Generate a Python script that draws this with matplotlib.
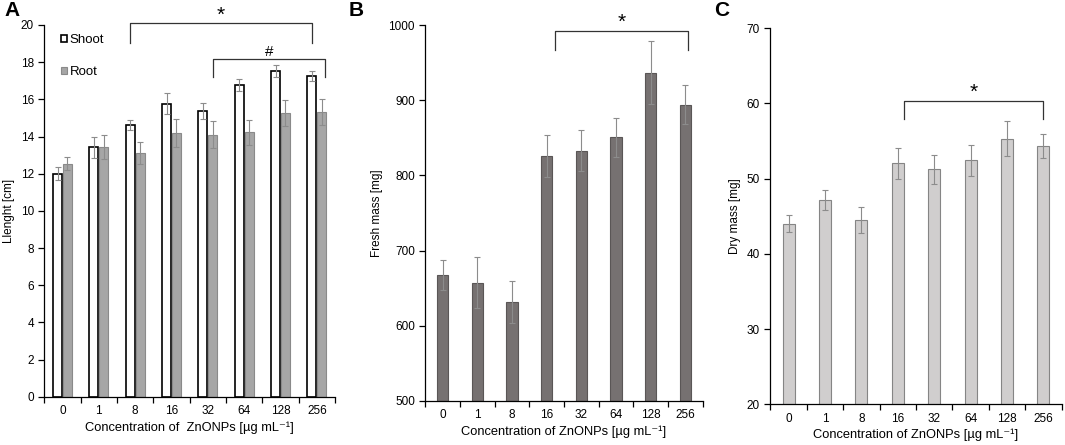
import matplotlib
matplotlib.use("Agg")
import matplotlib.pyplot as plt
import numpy as np

plt.rcParams['font.family'] = ['Liberation Sans', 'DejaVu Sans']

categories = ['0', '1', '8', '16', '32', '64', '128', '256']

shoot_len = [12.0, 13.42, 14.6, 15.77, 15.37, 16.79, 17.54, 17.24]
shoot_err = [0.34, 0.55, 0.27, 0.55, 0.45, 0.32, 0.33, 0.27]
root_len = [12.54, 13.42, 13.11, 14.19, 14.10, 14.22, 15.25, 15.30]
root_err = [0.34, 0.64, 0.61, 0.73, 0.72, 0.65, 0.71, 0.70]

fresh_mass = [667, 657, 632, 826, 833, 851, 937, 894]
fresh_err = [20, 34, 28, 28, 27, 26, 42, 26]

dry_mass = [44.0, 47.1, 44.45, 52.0, 51.2, 52.4, 55.3, 54.3]
dry_err = [1.15, 1.33, 1.7, 2.05, 1.95, 2.1, 2.3, 1.6]

xlabel_A = 'Concentration of  ZnONPs [µg mL⁻¹]'
xlabel_BC = 'Concentration of ZnONPs [µg mL⁻¹]'

W, H = 1065, 445
fig = plt.figure(figsize=(W / 100, H / 100), dpi=100)

def axes_px(l, r, t, b):
    return fig.add_axes([l / W, 1 - b / H, (r - l) / W, (b - t) / H])

axA = axes_px(44.3, 335, 25, 396.7)
axB = axes_px(425.3, 702.7, 25.3, 400.7)
axC = axes_px(770.3, 1061.7, 28, 404.3)

x = np.arange(len(categories))
ekw = dict(ecolor='#8c8c8c', elinewidth=0.8, capsize=2, capthick=0.8)

def style(ax, ylim, yticks, ylabel, xlabel):
    ax.set_xlim(-0.5, len(categories) - 0.5)
    ax.set_ylim(*ylim)
    ax.set_yticks(yticks)
    ax.set_xticks(x)
    ax.set_xticklabels(categories)
    ax.set_xticks(np.arange(-0.5, len(categories), 1.0), minor=True)
    ax.tick_params(axis='x', which='major', length=0, labelsize=8.5, pad=6)
    ax.tick_params(axis='x', which='minor', length=4, width=0.9, direction='out')
    ax.tick_params(axis='y', length=4, width=0.9, labelsize=8.5, direction='out')
    for s in ['top', 'right']:
        ax.spines[s].set_visible(False)
    for s in ['left', 'bottom']:
        ax.spines[s].set_linewidth(0.9)
    ax.set_ylabel(ylabel, fontsize=8.5)
    ax.set_xlabel(xlabel, fontsize=9.3, labelpad=3)

def bracket(ax, x0, x1, ytop, ybot, label, ytext, fs=13):
    ax.plot([x0, x0, x1, x1], [ybot, ytop, ytop, ybot], color='#333333', lw=0.9,
            clip_on=False)
    ax.text((x0 + x1) / 2, ytext, label, ha='center', va='center', fontsize=fs,
            clip_on=False)

# Panel A
off = 0.135
bw = 0.25
axA.bar(x - off, shoot_len, bw, color='white', edgecolor='black', linewidth=1.2,
        yerr=shoot_err, error_kw=ekw, label='Shoot', zorder=2)
axA.bar(x + off, root_len, bw, color='#a6a6a6', edgecolor='#8a8a8a', linewidth=0.8,
        yerr=root_err, error_kw=ekw, label='Root', zorder=2)
style(axA, (0, 20), np.arange(0, 21, 2), 'Llenght [cm]', xlabel_A)
bracket(axA, 2 - off, 7 - off, 20.09, 19.05, '*', 20.5, fs=15)
bracket(axA, 4 + off, 7.22, 18.17, 17.18, '#', 18.55, fs=11)
axA.legend(loc='upper left', bbox_to_anchor=(0.025, 1.0), frameon=False,
           handlelength=0.5, handleheight=0.5, handletextpad=0.15,
           labelspacing=1.5, fontsize=9.5, borderpad=0.2)

# Panel B
axB.bar(x, fresh_mass, 0.32, color='#767171', edgecolor='#5a5656', linewidth=0.8,
        yerr=fresh_err, error_kw=ekw, zorder=2)
style(axB, (500, 1000), np.arange(500, 1001, 100), 'Fresh mass [mg]', xlabel_BC)
bracket(axB, 3.25, 7.08, 992, 967, '*', 1004, fs=15)

# Panel C
axC.bar(x, dry_mass, 0.33, color='#d0cece', edgecolor='#858585', linewidth=0.8,
        yerr=dry_err, error_kw=ekw, zorder=2)
style(axC, (20, 70), np.arange(20, 71, 10), 'Dry mass [mg]', xlabel_BC)
bracket(axC, 3.17, 7.0, 60.3, 57.9, '*', 61.4, fs=15)

for lab, px in [('A', 4), ('B', 349), ('C', 714)]:
    fig.text(px / W, 1 - 11 / H, lab, fontsize=15, fontweight='bold',
             ha='left', va='center')

fig.savefig('out.png', dpi=100)
